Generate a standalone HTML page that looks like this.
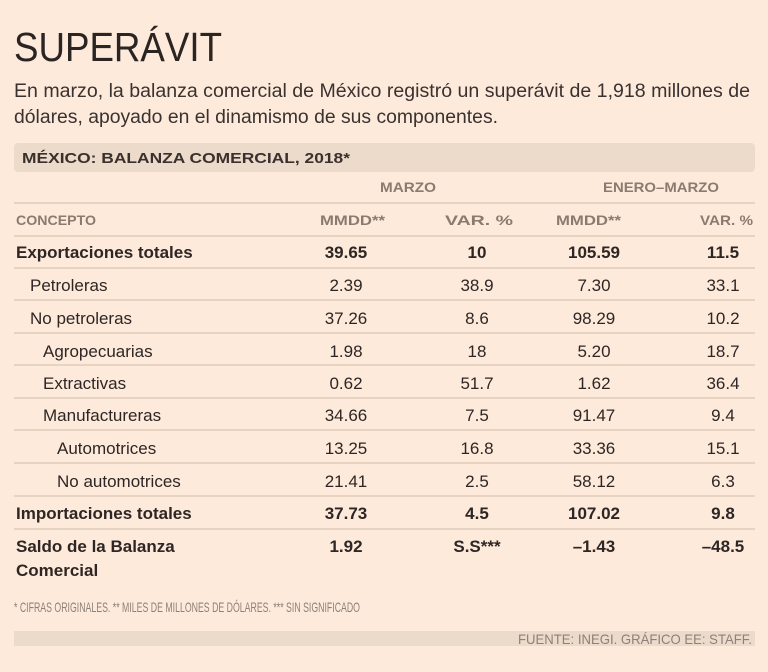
<!DOCTYPE html>
<html><head><meta charset="utf-8"><style>
html,body{margin:0;padding:0;background:#fdeadb;}
svg{display:block;}
text{font-family:"Liberation Sans","DejaVu Sans",sans-serif;}
</style></head><body>
<svg width="768" height="672" viewBox="0 0 768 672" xmlns="http://www.w3.org/2000/svg">
<rect width="768" height="672" fill="#fdeadb"/>
<text x="14" y="61" font-size="41" fill="#2a2422" textLength="208" lengthAdjust="spacingAndGlyphs">SUPERÁVIT</text>
<text x="14" y="97" font-size="19" fill="#3a3230" textLength="736" lengthAdjust="spacingAndGlyphs">En marzo, la balanza comercial de México registró un superávit de 1,918 millones de</text>
<text x="14" y="123" font-size="19" fill="#3a3230" textLength="484" lengthAdjust="spacingAndGlyphs">dólares, apoyado en el dinamismo de sus componentes.</text>
<rect x="14" y="143" width="741" height="29" rx="4" fill="#ecdbcb"/>
<text x="22" y="163" font-size="15" font-weight="bold" fill="#3a302c" textLength="328" lengthAdjust="spacingAndGlyphs">MÉXICO: BALANZA COMERCIAL, 2018*</text>
<g font-size="14" font-weight="bold" fill="#8a7a70">
<text x="408" y="192" text-anchor="middle" textLength="56" lengthAdjust="spacingAndGlyphs">MARZO</text>
<text x="661" y="192" text-anchor="middle" textLength="116" lengthAdjust="spacingAndGlyphs">ENERO–MARZO</text>
<text x="16" y="225" textLength="80" lengthAdjust="spacingAndGlyphs">CONCEPTO</text>
<text x="320" y="225" textLength="65" lengthAdjust="spacingAndGlyphs">MMDD**</text>
<text x="445" y="225" textLength="68" lengthAdjust="spacingAndGlyphs">VAR. %</text>
<text x="556" y="225" textLength="65" lengthAdjust="spacingAndGlyphs">MMDD**</text>
<text x="700" y="225" textLength="53" lengthAdjust="spacingAndGlyphs">VAR. %</text>
</g>
<g stroke="#d9c5b2" stroke-width="1.3">
<line x1="14" x2="755" y1="203" y2="203"/>
<line x1="14" x2="755" y1="236" y2="236"/>
<line x1="14" x2="755" y1="268" y2="268"/>
<line x1="14" x2="755" y1="300" y2="300"/>
<line x1="14" x2="755" y1="333" y2="333"/>
<line x1="14" x2="755" y1="365" y2="365"/>
<line x1="14" x2="755" y1="398" y2="398"/>
<line x1="14" x2="755" y1="430" y2="430"/>
<line x1="14" x2="755" y1="463" y2="463"/>
<line x1="14" x2="755" y1="496" y2="496"/>
<line x1="14" x2="755" y1="529" y2="529"/>
</g>
<g font-size="17" fill="#2e2624">
<g font-weight="bold">
<text x="16" y="258">Exportaciones totales</text>
<text x="346" y="258" text-anchor="middle">39.65</text>
<text x="477" y="258" text-anchor="middle">10</text>
<text x="594" y="258" text-anchor="middle">105.59</text>
<text x="723" y="258" text-anchor="middle">11.5</text>
</g>
<text x="30" y="291">Petroleras</text>
<text x="346" y="291" text-anchor="middle">2.39</text>
<text x="477" y="291" text-anchor="middle">38.9</text>
<text x="594" y="291" text-anchor="middle">7.30</text>
<text x="723" y="291" text-anchor="middle">33.1</text>
<text x="30" y="324">No petroleras</text>
<text x="346" y="324" text-anchor="middle">37.26</text>
<text x="477" y="324" text-anchor="middle">8.6</text>
<text x="594" y="324" text-anchor="middle">98.29</text>
<text x="723" y="324" text-anchor="middle">10.2</text>
<text x="43" y="357">Agropecuarias</text>
<text x="346" y="357" text-anchor="middle">1.98</text>
<text x="477" y="357" text-anchor="middle">18</text>
<text x="594" y="357" text-anchor="middle">5.20</text>
<text x="723" y="357" text-anchor="middle">18.7</text>
<text x="43" y="389">Extractivas</text>
<text x="346" y="389" text-anchor="middle">0.62</text>
<text x="477" y="389" text-anchor="middle">51.7</text>
<text x="594" y="389" text-anchor="middle">1.62</text>
<text x="723" y="389" text-anchor="middle">36.4</text>
<text x="43" y="421">Manufactureras</text>
<text x="346" y="421" text-anchor="middle">34.66</text>
<text x="477" y="421" text-anchor="middle">7.5</text>
<text x="594" y="421" text-anchor="middle">91.47</text>
<text x="723" y="421" text-anchor="middle">9.4</text>
<text x="57" y="454">Automotrices</text>
<text x="346" y="454" text-anchor="middle">13.25</text>
<text x="477" y="454" text-anchor="middle">16.8</text>
<text x="594" y="454" text-anchor="middle">33.36</text>
<text x="723" y="454" text-anchor="middle">15.1</text>
<text x="57" y="487">No automotrices</text>
<text x="346" y="487" text-anchor="middle">21.41</text>
<text x="477" y="487" text-anchor="middle">2.5</text>
<text x="594" y="487" text-anchor="middle">58.12</text>
<text x="723" y="487" text-anchor="middle">6.3</text>
<g font-weight="bold">
<text x="16" y="519">Importaciones totales</text>
<text x="346" y="519" text-anchor="middle">37.73</text>
<text x="477" y="519" text-anchor="middle">4.5</text>
<text x="594" y="519" text-anchor="middle">107.02</text>
<text x="723" y="519" text-anchor="middle">9.8</text>
<text x="16" y="552">Saldo de la Balanza</text>
<text x="16" y="576">Comercial</text>
<text x="346" y="552" text-anchor="middle">1.92</text>
<text x="477" y="552" text-anchor="middle">S.S***</text>
<text x="594" y="552" text-anchor="middle">–1.43</text>
<text x="723" y="552" text-anchor="middle">–48.5</text>
</g>
</g>
<text x="14" y="612" font-size="14" fill="#8e8078" textLength="346" lengthAdjust="spacingAndGlyphs">* CIFRAS ORIGINALES. ** MILES DE MILLONES DE DÓLARES. *** SIN SIGNIFICADO</text>
<rect x="14" y="631" width="741" height="15" fill="#ecdbcb"/>
<text x="752" y="644" font-size="14" fill="#8e8078" text-anchor="end" textLength="234" lengthAdjust="spacingAndGlyphs">FUENTE: INEGI.  GRÁFICO EE: STAFF.</text>
</svg>
</body></html>
